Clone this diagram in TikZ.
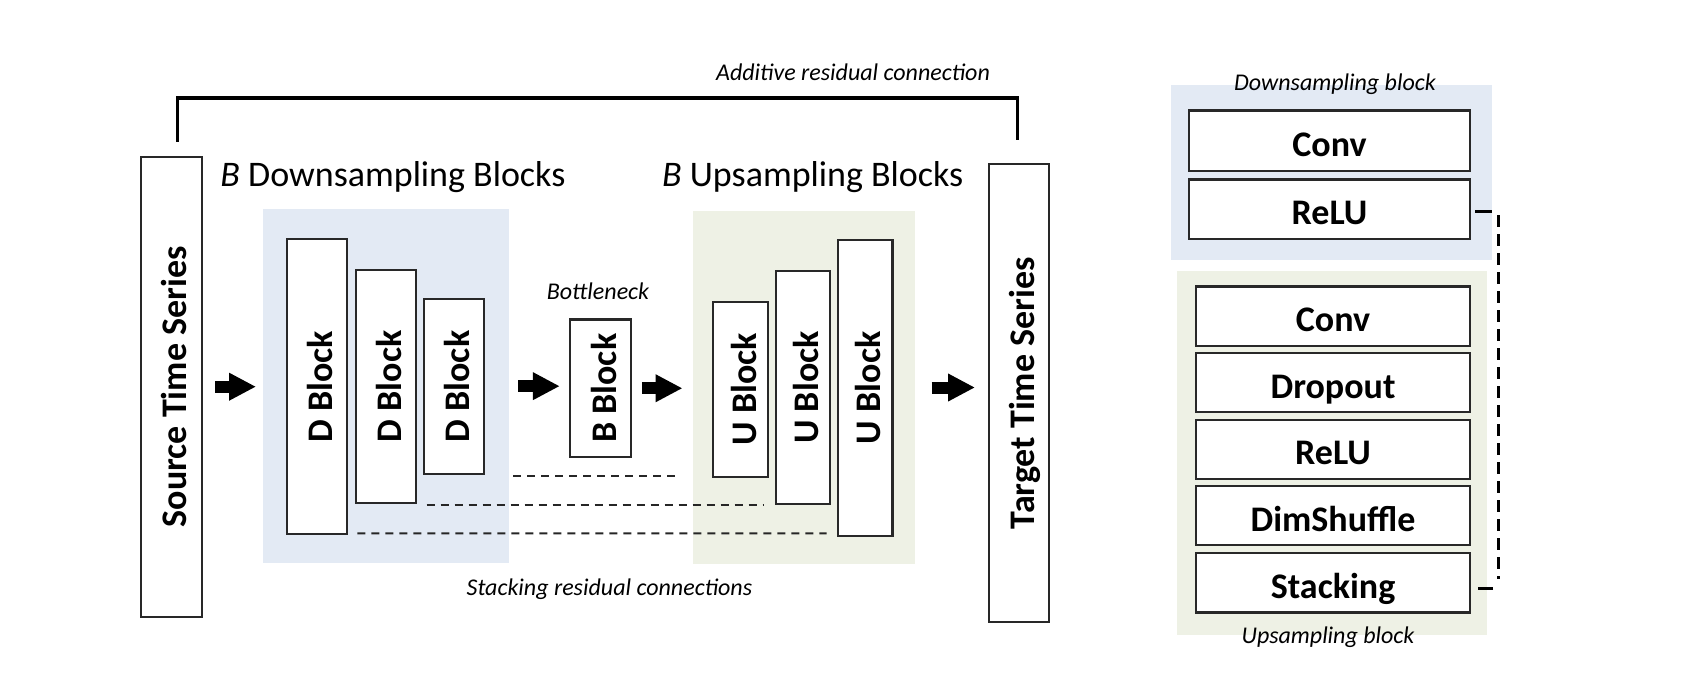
\documentclass[tikz,border=0pt]{standalone}
\usepackage{fontspec}
\setmainfont{Carlito}
\usepackage{graphicx}
\usetikzlibrary{arrows.meta}
\definecolor{dsbg}{RGB}{227,234,244}
\definecolor{usbg}{RGB}{238,241,229}
\definecolor{edge}{RGB}{40,40,40}
\newcommand\vlab[1]{\rotatebox{90}{\raisebox{0pt}[15.6pt][0pt]{#1}}}
\begin{document}
\begin{tikzpicture}[x=0.5pt,y=-0.5pt,
  blk/.style={draw=edge, line width=1.1pt, fill=white, inner sep=0pt, outer sep=0pt,
    font=\fontsize{18pt}{20pt}\selectfont\bfseries, text height=15.6pt, text depth=0pt},
  vblk/.style={draw=edge, line width=1.1pt, fill=white, inner sep=0pt, outer sep=0pt,
    font=\fontsize{18pt}{20pt}\selectfont\bfseries},
  bgbox/.style={draw=none, inner sep=0pt, outer sep=0pt},
  ital/.style={inner sep=0pt, font=\fontsize{12pt}{14pt}\selectfont\itshape},
  titletext/.style={inner sep=0pt, font=\fontsize{18pt}{20pt}\selectfont},
  bigarrow/.style={-{Triangle[length=13.5pt,width=13pt]}, line width=6pt},
  resid/.style={line width=1pt, dash pattern=on 4pt off 3pt, black!85},
  addline/.style={line width=1.6pt, line join=miter},
  dconn/.style={line width=1.5pt, dash pattern=on 6pt off 3.5pt},
  dstub/.style={line width=1.5pt},
]
\fill[white] (0,0) rectangle (1686,686);
\useasboundingbox (0,0) rectangle (1686,686);

% backgrounds
\node[bgbox, fill=dsbg, minimum width=123.3pt, minimum height=177.15pt] (dbg) at (386,386.15) {};
\node[bgbox, fill=usbg, minimum width=110.85pt, minimum height=176.8pt] (ubg) at (804.15,387.5) {};
\node[bgbox, fill=dsbg, minimum width=160.8pt, minimum height=87.45pt] (dsbgbox) at (1331.5,172.35) {};
\node[bgbox, fill=usbg, minimum width=155.3pt, minimum height=181.95pt] (usbgbox) at (1332,453.25) {};

% main column boxes
\node[vblk, minimum width=30.35pt, minimum height=230pt] (src) at (171.35,386.7) {\vlab{Source Time Series}};
\node[vblk, minimum width=30.15pt, minimum height=229.15pt] (tgt) at (1019.15,393.15) {\vlab{Target Time Series}};
\node[vblk, minimum width=30.3pt, minimum height=147.65pt] (d1) at (317,386.65) {\vlab{D Block}};
\node[vblk, minimum width=30pt, minimum height=116.35pt] (d2) at (385.7,386.35) {\vlab{D Block}};
\node[vblk, minimum width=30.3pt, minimum height=87.5pt] (d3) at (454,386.5) {\vlab{D Block}};
\node[vblk, minimum width=30.15pt, minimum height=68.75pt] (bn) at (600.45,388.25) {\vlab{B Block}};
\node[vblk, minimum width=27.5pt, minimum height=87.5pt] (u1) at (740.5,389.2) {\vlab{U Block}};
\node[vblk, minimum width=27.15pt, minimum height=116.5pt] (u2) at (802.85,387.5) {\vlab{U Block}};
\node[vblk, minimum width=27.25pt, minimum height=147.85pt] (u3) at (865.25,387.85) {\vlab{U Block}};

% right panel boxes
\node[blk, minimum width=140.5pt, minimum height=30.25pt] (conv1) at (1329.5,140.75) {Conv};
\node[blk, minimum width=140.5pt, minimum height=29.65pt] (relu1) at (1329.5,209.05) {ReLU};
\node[blk, minimum width=137pt, minimum height=29.75pt] (conv2) at (1333,316.25) {Conv};
\node[blk, minimum width=137pt, minimum height=29.75pt] (drop) at (1333,382.45) {Dropout};
\node[blk, minimum width=137pt, minimum height=29.75pt] (relu2) at (1333,449.35) {ReLU};
\node[blk, minimum width=137pt, minimum height=29.75pt] (dims) at (1333,515.45) {DimShuffle};
\node[blk, minimum width=137pt, minimum height=29.75pt] (stack) at (1333,582.75) {Stacking};

% labels
\node[ital, anchor=base] (addlbl) at (853,80.7) {Additive residual connection};
\node[titletext, anchor=base west] (dtitle) at (220,186.7) {\textit{B} Downsampling Blocks};
\node[titletext, anchor=base west] (utitle) at (661.7,186.7) {\textit{B} Upsampling Blocks};
\node[ital, anchor=base] (bnlbl) at (598,299) {Bottleneck};
\node[ital, anchor=base] (stlbl) at (609.4,595) {Stacking residual connections};
\node[ital, anchor=base] (dslbl) at (1335,90) {Downsampling block};
\node[ital, anchor=base] (uslbl) at (1328,643.6) {Upsampling block};

% additive residual connection
\draw[addline] ([shift={(6.35,-15)}]src.north) -- ++(0,-43.7) -| ([shift={(-1.45,-24)}]tgt.north);

% flow arrows
\draw[bigarrow, shorten <=6.65pt, shorten >=3.35pt] (src.east) -- (src.east -| dbg.west);
\draw[bigarrow, shorten <=4.55pt, shorten >=5.25pt] (dbg.east) -- (dbg.east -| bn.west);
\draw[bigarrow, shorten <=5.65pt, shorten >=5.4pt] (bn.east) -- (bn.east -| ubg.west);
\draw[bigarrow, shorten <=8.35pt, shorten >=7pt] (ubg.east) -- (ubg.east -| tgt.west);

% stacking residual connections
\draw[resid] ([shift={(29,1.7)}]d3.south east) -- ([shift={(-33,-1)}]u1.south west);
\draw[resid] ([shift={(11,2.3)}]d2.south east) -- ([shift={(-12.4,1)}]u2.south west);
\draw[resid] ([shift={(10,-1)}]d1.south east) -- ([shift={(-11.3,-2.4)}]u3.south west);

% right panel connector
\coordinate (c1) at ([shift={(5,2)}]relu1.east);
\coordinate (c2) at ([shift={(22,2)}]relu1.east);
\coordinate (c3) at ([shift={(28.3,6)}]relu1.east);
\coordinate (c4) at ([shift={(28.3,-4)}]stack.east);
\coordinate (c5) at ([shift={(23,5.25)}]stack.east);
\coordinate (c6) at ([shift={(8,5.25)}]stack.east);
\draw[dstub] (c1) -- (c2);
\draw[dconn] (c3) -- (c4);
\draw[dstub] (c5) -- (c6);
\end{tikzpicture}
\end{document}
